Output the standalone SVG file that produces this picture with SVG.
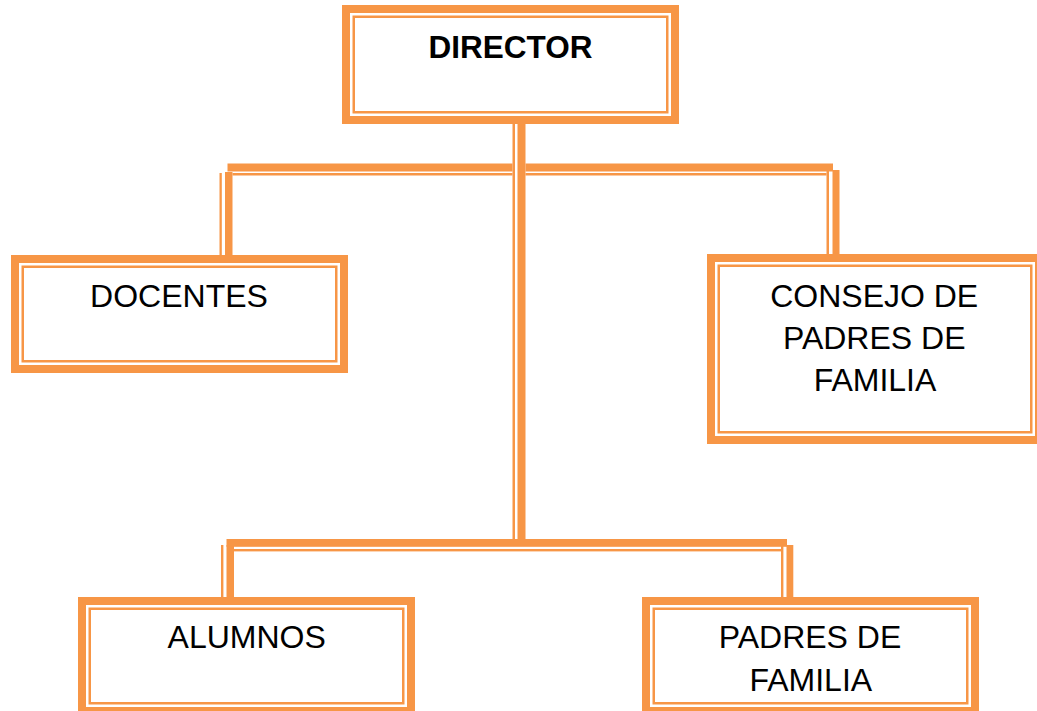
<svg xmlns="http://www.w3.org/2000/svg" width="1037" height="711" viewBox="0 0 1037 711">
<style>
.thick{fill:none;stroke:#F79646;stroke-width:8}
.thin{fill:none;stroke:#F79646;stroke-width:2.5}
.ln{fill:#F79646}
.gap{fill:#FFFFFF}
text{font-family:"Liberation Sans",Arial,sans-serif;font-size:32px;fill:#000;text-anchor:middle}
.b{font-weight:bold;font-size:31.5px}
</style>
<rect width="1037" height="711" fill="#FFFFFF"/>
<g id="connectors">
  <rect class="ln" x="227.5" y="163.5" width="605.5" height="8"/>
  <rect class="ln" x="232.5" y="173" width="594" height="2.5"/>
  <rect class="ln" x="225" y="172" width="7.5" height="84"/>
  <rect class="ln" x="219.5" y="173" width="2.3" height="83"/>
  <rect class="ln" x="832.5" y="170" width="7" height="85"/>
  <rect class="ln" x="826.5" y="171" width="2.5" height="84"/>
  <rect class="ln" x="226.5" y="539" width="560.5" height="7.8"/>
  <rect class="ln" x="234" y="549" width="547" height="2.4"/>
  <rect class="ln" x="226.5" y="545" width="7.5" height="53"/>
  <rect class="ln" x="221" y="545" width="2.4" height="53"/>
  <rect class="ln" x="786.5" y="545" width="6.8" height="53"/>
  <rect class="ln" x="781" y="545" width="2.4" height="53"/>
  <rect class="gap" x="512.5" y="124" width="13" height="415"/>
  <rect class="ln" x="512.5" y="124" width="2.5" height="415"/>
  <rect class="ln" x="517.5" y="124" width="8" height="415"/>
</g>
<g id="director">
  <rect class="thick" x="346" y="9" width="329" height="111" fill="#FFFFFF"/>
  <rect class="thin" x="353.75" y="16.75" width="313.5" height="95.5"/>
  <text class="b" x="510.5" y="58.3">DIRECTOR</text>
</g>
<g id="docentes">
  <rect class="thick" x="15" y="259" width="329" height="110" fill="#FFFFFF"/>
  <rect class="thin" x="22.75" y="266.75" width="313.5" height="94.5"/>
  <text x="179" y="306.7">DOCENTES</text>
</g>
<g id="consejo">
  <rect class="thick" x="711" y="258" width="328" height="182" fill="#FFFFFF"/>
  <rect class="thin" x="718.75" y="265.75" width="312.5" height="166.5"/>
  <text x="874.2" y="306.7">CONSEJO DE</text>
  <text x="874.2" y="348.5">PADRES DE</text>
  <text x="875" y="391">FAMILIA</text>
</g>
<g id="alumnos">
  <rect class="thick" x="82" y="601" width="329" height="110" fill="#FFFFFF"/>
  <rect class="thin" x="89.75" y="608.75" width="313.5" height="94.5"/>
  <text x="246.7" y="648.3">ALUMNOS</text>
</g>
<g id="padres">
  <rect class="thick" x="646" y="601" width="329" height="110" fill="#FFFFFF"/>
  <rect class="thin" x="653.75" y="608.75" width="313.5" height="94.5"/>
  <text x="810" y="648.3">PADRES DE</text>
  <text x="810.8" y="691">FAMILIA</text>
</g>
</svg>
